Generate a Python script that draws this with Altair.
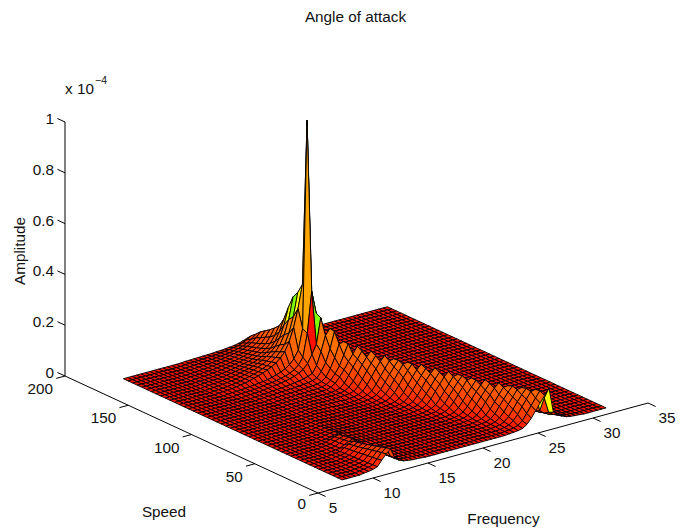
import altair as alt
import pandas as pd

# Axis ticks
freq_ticks = [5, 10, 15, 20, 25, 30, 35]
speed_ticks = [0, 50, 100, 150, 200]
amp_ticks = [0, 0.2, 0.4, 0.6, 0.8, 1]
amp_labels = ["0", "0.2", "0.4", "0.6", "0.8", "1"]

# Surface grid
FREQ_START, FREQ_STEP, N_FREQ = 8.0, 0.4, 61
SPEED_START, SPEED_STEP, N_SPEED = 7.0, 3.68, 48

# Amplitude in 1e-7; one entry per speed row,
# each holding (first frequency index, values). Everything else is 0.
surface_rows = [
 [(5,[3,5,8,14,35,55,70,30,16,9,6,4,3,2]),(38,[2,3,5,9,20,40,65,90,115,140,40,28,15,8,5,3,2])],
 [(5,[3,5,8,13,32,52,66,29,15,9,6,4,3,2]),(38,[2,4,7,12,26,50,76,101,125,93,31,18,11,6,3,2])],
 [(5,[2,4,7,12,29,48,60,26,14,8,5,4,3,2]),(38,[2,5,10,22,42,68,93,118,122,33,20,11,6,4,2])],
 [(5,[2,4,7,11,27,44,55,24,13,7,5,3,2]),(37,[2,4,6,14,30,54,79,102,122,56,25,15,9,5,2])],
 [(5,[2,4,6,10,25,40,50,22,12,7,4,3,2]),(37,[2,5,10,21,40,65,89,113,117,31,19,11,6,4,2])],
 [(5,[2,3,5,9,22,36,45,20,11,6,4,3,2]),(36,[2,4,6,14,29,53,77,100,119,55,24,15,9,5,2])],
 [(6,[3,5,8,20,32,40,18,10,6,4,3,2]),(36,[2,5,10,20,39,63,87,110,112,30,19,11,6,4,2])],
 [(6,[3,4,7,18,29,36,16,9,5,3,2]),(35,[2,4,7,16,34,58,82,103,120,35,22,12,7,4,2])],
 [(6,[2,4,6,16,26,32,14,8,4,3,2]),(34,[2,3,5,11,24,46,70,92,114,84,28,17,10,5,3,2])],
 [(7,[2,3,6,15,23,29,13,7,4,3,2]),(34,[2,4,7,16,34,58,82,103,120,35,22,12,7,4,2])],
 [(7,[2,3,5,13,21,26,11,6,3,2]),(33,[2,3,5,11,24,46,70,92,114,84,28,17,10,5,3,2])],
 [(7,[2,3,5,12,18,23,10,5,3,2]),(33,[2,5,10,20,39,63,87,110,114,30,19,11,6,4,2])],
 [(8,[2,4,10,16,20,9,5,3,2]),(32,[2,4,6,14,29,53,77,100,119,55,24,15,9,5,2])],
 [(9,[2,3,6,10,13,7,4,3,2]),(32,[2,5,10,20,40,64,88,112,116,31,19,11,6,4,2])],
 [(9,[2,3,5,8,10,6,4,3,2]),(31,[2,4,7,16,35,60,84,107,124,38,23,13,7,4,2])],
 [(10,[2,4,6,8,5,3,2]),(30,[2,3,6,11,25,47,71,95,117,87,29,17,10,6,3,2])],
 [(10,[2,3,5,7,5,3,2]),(30,[2,4,8,16,35,60,86,108,126,36,23,13,8,4,2])],
 [(11,[2,4,6,4,3,2]),(29,[2,3,6,11,25,48,73,97,120,88,29,18,10,6,3,2])],
 [(12,[2,4,6,4,3,2]),(29,[2,4,8,17,36,61,87,110,128,37,23,13,8,4,2])],
 [(12,[2,3,5,4,3,2]),(28,[2,4,7,15,31,55,81,104,125,58,26,15,9,5,2])],
 [(13,[2,3,5,4,3,2]),(28,[2,5,10,22,43,69,95,120,124,34,21,12,7,4,2])],
 [(14,[2,3,5,4,3,2]),(27,[2,4,7,15,31,56,82,106,127,59,26,16,9,5,2])],
 [(15,[2,3,5,4,3,3,2]),(27,[2,5,11,22,44,70,96,121,125,34,21,12,7,4,2])],
 [(15,[2,3,4,4,4,4,3,3,3,3]),(26,[3,4,8,17,38,64,91,115,134,39,24,14,8,5,2])],
 [(15,[2,3,3,4,4,4,4,4,4,4]),(25,[5,6,8,13,27,52,79,105,129,95,31,19,11,6,3,2])],
 [(15,[2,2,3,3,4,4,4,4,5]),(24,[5,6,7,11,21,40,67,95,120,140,41,25,14,8,5,3,2])],
 [(15,[2,2,3,3,4,4,5,5,5]),(24,[5,6,8,13,28,54,82,109,135,99,33,20,11,6,3,2])],
 [(15,[2,3,4,4,5,5,5,6,6,7,8,13,24,44,68,95,120,146,43,27,15,9,5,3,2])],
 [(15,[2,3,4,5,5,6,6,7,7,8,10,15,27,48,74,112,152,68,30,17,10,6,4,2])],
 [(14,[2,3,4,5,6,6,7,8,9,10,11,13,18,32,60,98,147,152,52,33,19,11,7,4,3,2])],
 [(13,[2,3,4,5,6,7,8,9,10,11,13,15,18,24,45,75,125,188,75,44,28,18,11,7,5,3,2])],
 [(13,[2,3,4,5,7,8,9,11,13,15,18,21,26,33,60,110,168,192,80,50,33,22,15,10,7,5,3,2])],
 [(12,[2,3,4,5,6,9,11,13,16,19,23,28,36,45,65,95,130,230,120,72,48,33,24,17,12,8,5,4,3,2])],
 [(11,[2,3,4,5,6,8,10,12,14,17,21,25,31,40,55,80,170,330,240,110,70,48,33,24,18,13,9,6,4,3,2])],
 [(10,[2,3,4,5,6,8,10,12,14,17,21,26,32,40,52,70,100,180,995,320,130,75,48,33,24,17,12,8,5,4,3,2])],
 [(9,[2,3,4,6,8,11,14,18,23,28,34,42,50,60,75,95,130,180,250,340,170,95,58,36,24,16,11,7,5,3,2])],
 [(9,[2,3,4,6,8,10,13,17,21,26,31,38,45,55,68,85,110,150,210,300,150,85,52,33,22,15,10,7,4,3,2])],
 [(9,[2,3,4,6,8,10,12,16,20,24,29,35,42,50,62,78,100,135,190,275,135,80,48,30,20,14,9,6,4,2])],
 [(9,[2,3,4,5,7,9,11,14,18,22,26,31,37,45,55,68,85,115,160,225,112,66,40,25,16,11,7,5,3,2])],
 [(9,[2,3,4,5,6,8,10,13,16,19,23,27,32,38,46,57,70,92,125,170,85,50,30,19,12,8,5,3,2])],
 [(9,[2,2,3,4,6,7,9,11,14,17,20,24,28,33,40,48,60,76,102,135,68,40,24,15,10,6,4,3,2])],
 [(10,[2,3,4,5,7,8,10,13,15,18,21,25,29,35,42,52,66,88,118,60,35,21,13,8,5,4,2])],
 [(10,[2,3,3,5,6,7,9,11,13,16,18,22,26,31,37,46,58,78,103,52,31,19,11,7,5,3,2])],
 [(11,[2,3,4,5,6,8,10,12,14,16,19,23,27,32,40,50,68,90,46,27,16,10,6,4,3,2])],
 [(11,[2,3,4,5,6,7,8,10,12,14,17,20,23,28,35,44,59,78,40,24,14,9,5,4,2])],
 [(12,[2,3,4,5,6,7,8,10,11,13,15,18,22,27,34,45,60,32,19,11,7,4,3,2])],
 [(13,[2,3,4,4,5,6,7,8,10,12,14,17,20,26,34,45,24,14,8,5,3,2])],
 [(14,[2,2,3,3,4,4,5,6,7,8,10,12,15,20,26,14,8,5,3,2])],
]

YELLOW, GREEN, RED = 2000, 2100, 2200
# Faces whose colour departs from the height scale: (speed row, freq index, tone)
face_tones = [
    (0, 46, YELLOW), (1, 46, YELLOW), (0, 47, YELLOW), (2, 45, GREEN),
    (36, 27, GREEN), (35, 27, YELLOW), (37, 27, YELLOW),
    (32, 28, GREEN), (32, 27, RED), (32, 29, YELLOW),
]

tone_domain = [0, 12, 30, 60, 100, 200, 400, YELLOW, GREEN, RED]
tone_range = ["#ff1000", "#ff1c00", "#ff3000", "#ff4600", "#ff5c00", "#ff8800", "#ffa500", "#ffff00", "#80ff00", "#ff1000"]

def project(f, s, z=0.0):
    return (318 + 11 * (f - 5) - 1.265 * s, 493 - 3 * (f - 5) - 0.585 * s - 254 * z)

grid = [[0.0] * N_FREQ for _ in range(N_SPEED)]
for r, segs in enumerate(surface_rows):
    for start, vals in segs:
        for i, v in enumerate(vals):
            grid[r][start + i] = v / 1000

overrides = {(r, c): t for r, c, t in face_tones}
quads = []
for r in range(N_SPEED - 1):
    for c in range(N_FREQ - 1):
        corners = [(r, c), (r, c + 1), (r + 1, c + 1), (r + 1, c), (r, c)]
        zs = [grid[a][b] for a, b in corners[:4]]
        tone = overrides.get((r, c), min(sum(zs) / 4 * 1000, 400))
        pts = [project(FREQ_START + FREQ_STEP * b, SPEED_START + SPEED_STEP * a, grid[a][b]) for a, b in corners]
        depth = project(FREQ_START + FREQ_STEP * c, SPEED_START + SPEED_STEP * r)[1]
        quads.append((depth, r, c, tone, pts))
quads.sort(key=lambda q: (q[0], -q[1]))
rows = []
for n, (_, r, c, tone, pts) in enumerate(quads):
    for i, (x, y) in enumerate(pts):
        rows.append({"cell": n, "i": i, "x": round(x, 2), "y": round(y, 2), "tone": round(tone, 1)})
surface_df = pd.DataFrame(rows)

X = alt.X("x:Q", scale=alt.Scale(domain=[8, 680], nice=False, zero=False), axis=None)
Y = alt.Y("y:Q", scale=alt.Scale(domain=[528, 8], nice=False, zero=False), axis=None)

surface = alt.Chart(surface_df).mark_line(stroke="black", strokeWidth=0.9, strokeJoin="round", interpolate="linear").encode(
    x=X, y=Y, detail="cell:N", order="i:Q",
    fill=alt.Fill("tone:Q", scale=alt.Scale(domain=tone_domain, range=tone_range), legend=None),
)

# Axis lines and ticks
segs = []
def seg(a, b):
    n = len(segs)
    segs.append({"k": n, "i": 0, "x": a[0], "y": a[1]})
    segs.append({"k": n, "i": 1, "x": b[0], "y": b[1]})

seg(project(5, 0), project(35, 0))
seg(project(5, 0), project(5, 200))
seg(project(5, 200), project(5, 200, 1))
for f in freq_ticks:
    seg(project(f, 0), project(f, -6))
for s in speed_ticks:
    seg(project(5, s), project(4.2, s))
for a in amp_ticks:
    seg(project(5, 200, a), project(5, 206, a))
axis_df = pd.DataFrame(segs)
axes = alt.Chart(axis_df).mark_line(stroke="black", strokeWidth=1).encode(x=X, y=Y, detail="k:N", order="i:Q")

FONT = "Liberation Sans"
SIZE = 15.3
def texts(items, size=SIZE, align="center", angle=0):
    df = pd.DataFrame(items, columns=["x", "y", "t"])
    return alt.Chart(df).mark_text(font=FONT, fontSize=size, align=align, baseline="middle", angle=angle, color="#111111").encode(x=X, y=Y, text="t:N")

flabels = [(project(f, 0)[0] + (15 if f < 10 else 19), project(f, 0)[1] + 14.5, str(f)) for f in freq_ticks]
slabels = [(project(5, s)[0] - 12, project(5, s)[1] + (11 if s == 0 else 13), str(s)) for s in speed_ticks]
alabels = [(project(5, 200, a)[0] - 11, project(5, 200, a)[1] - 3, t) for a, t in zip(amp_ticks, amp_labels)]

chart = alt.layer(
    axes,
    surface,
    texts(flabels),
    texts(slabels, align="right"),
    texts(alabels, align="right"),
    texts([(355.5, 17, "Angle of attack")]),
    texts([(20, 251, "Amplitude")], angle=270),
    texts([(164, 512, "Speed")]),
    texts([(503.5, 519, "Frequency")]),
    texts([(65, 89, "x 10")], align="left"),
    texts([(95, 81, "\u22124")], size=10.5, align="left"),
).properties(width=672, height=520, padding=0, autosize=alt.AutoSizeParams(type="none")).configure_view(stroke=None)

chart.save("out.html", embed_options={"renderer": "svg", "actions": False})
